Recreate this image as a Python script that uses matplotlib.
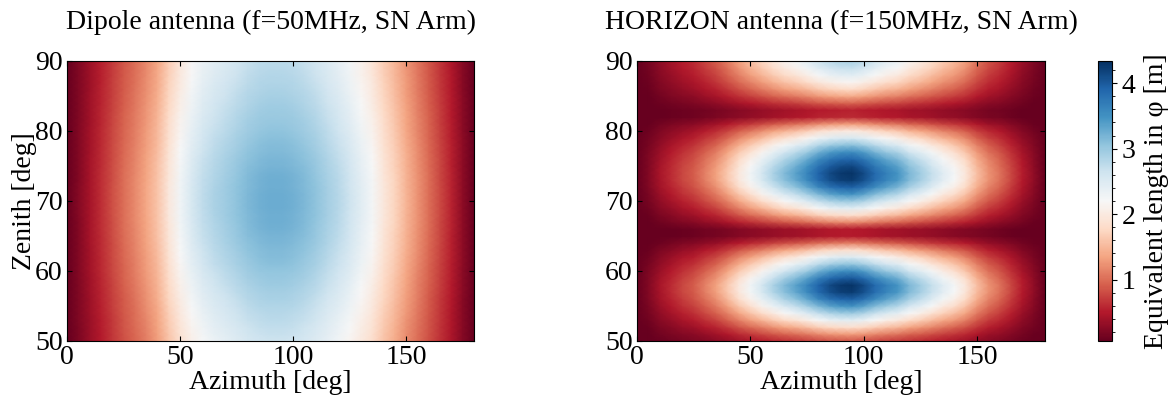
import numpy as np
import matplotlib
matplotlib.use("Agg")
import matplotlib.pyplot as plt
from matplotlib.colors import Normalize
from matplotlib.ticker import MultipleLocator

# ---- data ----
# azimuth samples [deg] and zenith samples [deg]
azimuth = [0, 5, 10, 15, 20, 25, 30, 35, 40, 45, 50, 55, 60, 65, 70, 75, 80, 85, 90,
           95, 100, 105, 110, 115, 120, 125, 130, 135, 140, 145, 150, 155, 160, 165,
           170, 175, 180]
zenith = list(range(50, 91))

# Dipole: peak length vs zenith (at the azimuth maximum), and relative azimuth pattern
dipole_zenith_peak = [2.65, 2.69, 2.73, 2.77, 2.81, 2.85, 2.89, 2.93, 2.97, 3.01,
                      3.05, 3.09, 3.12, 3.15, 3.18, 3.20, 3.22, 3.24, 3.25, 3.26,
                      3.26, 3.26, 3.25, 3.24, 3.22, 3.20, 3.18, 3.15, 3.12, 3.09,
                      3.06, 3.03, 3.00, 2.97, 2.94, 2.91, 2.88, 2.85, 2.82, 2.80, 2.78]
dipole_azimuth_rel = [0.02, 0.07, 0.13, 0.19, 0.25, 0.31, 0.36, 0.42, 0.49, 0.60,
                      0.70, 0.78, 0.84, 0.88, 0.91, 0.94, 0.97, 0.99, 1.00, 1.00,
                      0.99, 0.97, 0.94, 0.90, 0.86, 0.81, 0.75, 0.69, 0.60, 0.53,
                      0.45, 0.38, 0.31, 0.24, 0.17, 0.09, 0.02]

# HORIZON: peak length vs zenith, and relative azimuth pattern
horizon_zenith_peak = [0.85, 1.30, 1.85, 2.45, 3.00, 3.50, 3.95, 4.25, 4.30, 4.00,
                       3.55, 3.05, 2.50, 1.85, 1.10, 0.50, 0.50, 1.20, 1.85, 2.45,
                       3.00, 3.50, 3.95, 4.25, 4.30, 4.15, 3.90, 3.55, 3.10, 2.55,
                       2.00, 1.30, 0.60, 0.55, 0.95, 1.40, 1.80, 2.15, 2.45, 2.70, 2.90]
horizon_azimuth_rel = [0.015, 0.05, 0.10, 0.14, 0.18, 0.21, 0.26, 0.31, 0.38, 0.46,
                       0.53, 0.60, 0.67, 0.73, 0.78, 0.84, 0.91, 0.96, 0.99, 1.00,
                       0.96, 0.90, 0.85, 0.81, 0.74, 0.69, 0.63, 0.57, 0.52, 0.45,
                       0.36, 0.29, 0.24, 0.18, 0.12, 0.07, 0.015]

titles = ["Dipole antenna (f=50MHz, SN Arm)", "HORIZON antenna (f=150MHz, SN Arm)"]
x_ticks = [0, 50, 100, 150]
y_ticks = [50, 60, 70, 80, 90]
cbar_ticks = [1, 2, 3, 4]
value_range = (0.06, 4.34)

# ---- figure ----
plt.rcParams['font.family'] = ['Liberation Serif', 'DejaVu Serif']
FS = 20

fig = plt.figure(figsize=(11.76, 4.03), dpi=100)
ax_l = fig.add_axes([67/1176, 62/403, 407/1176, 280/403])
ax_r = fig.add_axes([637/1176, 62/403, 408/1176, 280/403])
cax = fig.add_axes([1098/1176, 62/403, 14/1176, 280/403])

norm = Normalize(vmin=value_range[0], vmax=value_range[1])
AZ, ZE = np.meshgrid(azimuth, zenith)

fields = [np.outer(dipole_zenith_peak, dipole_azimuth_rel),
          np.outer(horizon_zenith_peak, horizon_azimuth_rel)]

mesh = None
for ax, field, title, show_ylabel in zip([ax_l, ax_r], fields, titles, [True, False]):
    mesh = ax.pcolormesh(AZ, ZE, field, cmap='RdBu', norm=norm, shading='gouraud',
                         rasterized=True)
    ax.set_xlim(0, 180)
    ax.set_ylim(50, 90)
    ax.set_xticks(x_ticks)
    ax.set_yticks(y_ticks)
    ax.tick_params(direction='in', top=True, right=True, labelsize=FS, pad=3)
    ax.set_xlabel("Azimuth [deg]", fontsize=FS, labelpad=0)
    if show_ylabel:
        ax.set_ylabel("Zenith [deg]", fontsize=FS, labelpad=-1.5)
    ax.set_title(title, fontsize=FS, pad=23)

cb = fig.colorbar(mesh, cax=cax)
cb.set_ticks(cbar_ticks)
cb.ax.yaxis.set_minor_locator(MultipleLocator(0.2))
cb.ax.tick_params(labelsize=FS)
cb.set_label("Equivalent length in φ [m]", fontsize=FS, labelpad=6)
cb.outline.set_linewidth(0.8)

fig.savefig("out.png", dpi=100)
